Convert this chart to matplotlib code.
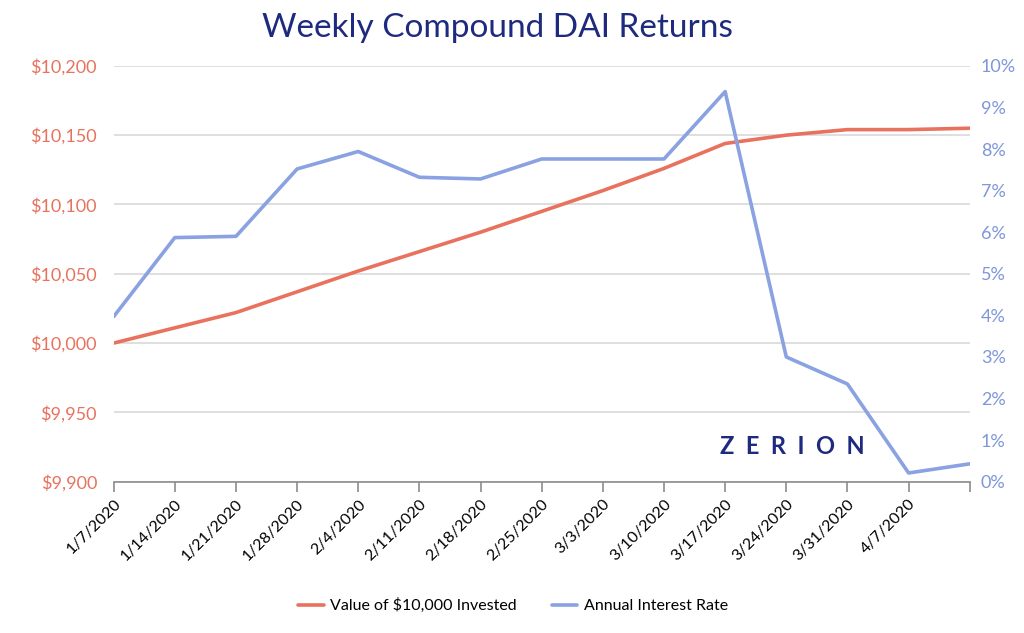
import matplotlib
matplotlib.use("Agg")
import matplotlib.pyplot as plt
from matplotlib.ticker import FuncFormatter, MultipleLocator

dates = ["1/7/2020", "1/14/2020", "1/21/2020", "1/28/2020", "2/4/2020", "2/11/2020",
         "2/18/2020", "2/25/2020", "3/3/2020", "3/10/2020", "3/17/2020", "3/24/2020",
         "3/31/2020", "4/7/2020", "4/14/2020"]
tick_labels = dates[:-1] + [""]
value_invested = [10000, 10011, 10022, 10037, 10052, 10066, 10080, 10095, 10110,
                  10126, 10144, 10150, 10154, 10154, 10155]
interest_rate = [3.97, 5.87, 5.90, 7.52, 7.94, 7.32, 7.28, 7.76, 7.76, 7.76,
                 9.38, 3.00, 2.35, 0.21, 0.43]

orange = "#E8725E"
blue = "#8BA2E2"
left_lbl = "#E8725E"
right_lbl = "#7F96DA"
navy = "#1E2A7E"

plt.rcParams['font.family'] = ['Lato', 'DejaVu Sans']

fig = plt.figure(figsize=(10.24, 6.33), dpi=100)
ax = fig.add_axes([0.111, 0.239, 0.836, 0.657])
x = list(range(len(dates)))

l1, = ax.plot(x, value_invested, color=orange, lw=2.6, solid_capstyle='round',
              label="Value of $10,000 Invested")
ax.set_ylim(9900, 10200)
ax.yaxis.set_major_locator(MultipleLocator(50))
ax.yaxis.set_major_formatter(FuncFormatter(lambda v, p: "${:,.0f}".format(v)))
ax.set_xlim(0, 14)
ax.set_xticks(x)
ax.set_xticklabels(tick_labels, rotation=45, ha='right', rotation_mode='anchor',
                   fontsize=11.5)
ax.grid(axis='y', color='#D9D9D9', lw=1.2)
ax.set_axisbelow(True)
for s in ['top', 'left', 'right']:
    ax.spines[s].set_visible(False)
ax.spines['bottom'].set_color('#8C8C8C')
ax.spines['bottom'].set_linewidth(1.2)
ax.tick_params(axis='x', colors='#8C8C8C', length=7, width=1.2, labelcolor='black', pad=4)
ax.tick_params(axis='y', length=0, labelcolor=left_lbl, labelsize=13, pad=12)

ax2 = ax.twinx()
l2, = ax2.plot(x, interest_rate, color=blue, lw=2.6, solid_capstyle='round',
               label="Annual Interest Rate")
ax2.set_ylim(0, 10)
ax2.yaxis.set_major_locator(MultipleLocator(1))
ax2.yaxis.set_major_formatter(FuncFormatter(lambda v, p: "{:.0f}%".format(v)))
for s in ['top', 'left', 'right', 'bottom']:
    ax2.spines[s].set_visible(False)
ax2.tick_params(axis='y', length=0, labelcolor=right_lbl, labelsize=13, pad=8)

fig.text(0.486, 0.955, "Weekly Compound DAI Returns", ha='center', va='center',
         fontsize=24, color=navy)

fig.text(0.774, 0.295, "Z  E  R  I  O  N", ha='center', va='center', fontsize=17,
         color=navy, fontweight='bold')

fig.legend(handles=[l1, l2], loc='center', bbox_to_anchor=(0.501, 0.043), ncol=2,
           frameon=False, fontsize=11.5, handlelength=1.6, columnspacing=2.2,
           handletextpad=0.4)

fig.savefig("out.png", dpi=100, facecolor='white')
